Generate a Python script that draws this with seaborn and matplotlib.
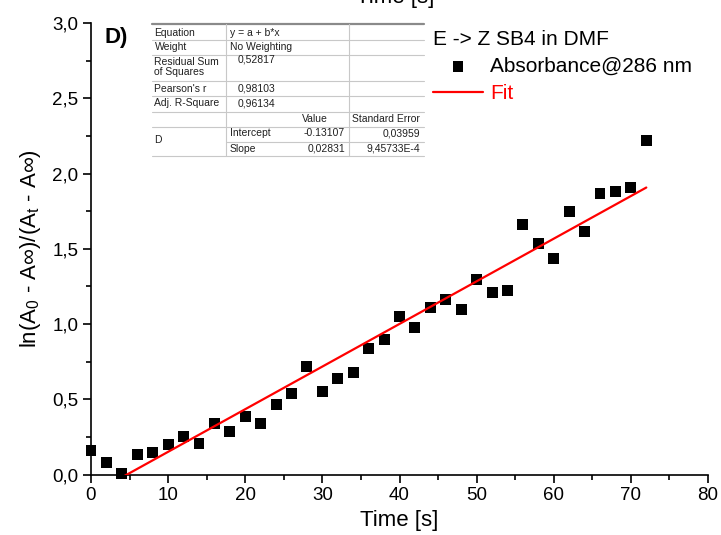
import numpy as np
import pandas as pd
import matplotlib
matplotlib.use("Agg")
import matplotlib.pyplot as plt
import matplotlib.transforms as mtransforms
from matplotlib.lines import Line2D
from matplotlib.ticker import FixedLocator, MultipleLocator
import seaborn as sns

# ---------------- data ----------------
time_s = [0, 2, 4, 6, 8, 10, 12, 14, 16, 18, 20, 22, 24, 26, 28, 30, 32, 34, 36,
          38, 40, 42, 44, 46, 48, 50, 52, 54, 56, 58, 60, 62, 64, 66, 68, 70, 72]
ln_ratio = [0.16, 0.084, 0.005, 0.135, 0.146, 0.20, 0.254, 0.21, 0.338, 0.287,
            0.385, 0.338, 0.466, 0.542, 0.719, 0.555, 0.641, 0.679, 0.84, 0.90,
            1.052, 0.975, 1.112, 1.165, 1.097, 1.294, 1.208, 1.221, 1.663, 1.533,
            1.435, 1.747, 1.614, 1.865, 1.882, 1.908, 2.218]
fit_intercept = [-0.13107]
fit_slope = [0.02831]
fit_x_range = [0, 72]

x_ticks = [0, 10, 20, 30, 40, 50, 60, 70, 80]
x_tick_labels = ["0", "10", "20", "30", "40", "50", "60", "70", "80"]
y_ticks = [0.0, 0.5, 1.0, 1.5, 2.0, 2.5, 3.0]
y_tick_labels = ["0,0", "0,5", "1,0", "1,5", "2,0", "2,5", "3,0"]

legend_title = "E -> Z SB4 in DMF"
series_label = "Absorbance@286 nm"
fit_label = "Fit"
panel_label = "D)"

table_top_labels = ["Equation", "Weight", "Residual Sum\nof Squares", "Pearson's r", "Adj. R-Square"]
table_top_values = ["y = a + b*x", "No Weighting", "0,52817", "0,98103", "0,96134"]
table_header = ["Value", "Standard Error"]
table_param_group = "D"
table_param_names = ["Intercept", "Slope"]
table_param_values = ["-0.13107", "0,02831"]
table_param_errors = ["0,03959", "9,45733E-4"]

# ---------------- figure ----------------
W, H = 721, 535
sns.set_theme(style="white")
plt.rcParams["font.family"] = ["Liberation Sans", "DejaVu Sans"]
plt.rcParams["mathtext.fontset"] = "custom"
plt.rcParams["mathtext.rm"] = "Liberation Sans"
plt.rcParams["mathtext.it"] = "Liberation Sans"
plt.rcParams["text.color"] = "black"

fig = plt.figure(figsize=(W / 100, H / 100), dpi=100)
fig.patch.set_facecolor("white")
ax = fig.add_axes([91 / W, 1 - 474.7 / H, (708 - 91) / W, (474.7 - 23) / H])
ax.set_facecolor("white")

df = pd.DataFrame({"t": time_s, "y": ln_ratio})
sns.scatterplot(data=df, x="t", y="y", marker="s", s=62, color="black",
                edgecolor="none", linewidth=0, ax=ax, label=series_label,
                zorder=3, clip_on=False)

fit_x = np.array(fit_x_range, dtype=float)
fit_df = pd.DataFrame({"t": fit_x, "y": fit_intercept[0] + fit_slope[0] * fit_x})
sns.lineplot(data=fit_df, x="t", y="y", color="red", linewidth=1.6, ax=ax,
             label=fit_label, zorder=4)

ax.set_xlim(0, 80)
ax.set_ylim(0, 3.0)
ax.xaxis.set_major_locator(FixedLocator(x_ticks))
ax.set_xticklabels(x_tick_labels)
ax.yaxis.set_major_locator(FixedLocator(y_ticks))
ax.set_yticklabels(y_tick_labels)
ax.xaxis.set_minor_locator(MultipleLocator(5))
ax.yaxis.set_minor_locator(MultipleLocator(0.25))

for side in ["top", "right"]:
    ax.spines[side].set_visible(False)
for side in ["left", "bottom"]:
    ax.spines[side].set_color("black")
    ax.spines[side].set_linewidth(1.2)

ax.tick_params(axis="both", which="major", direction="out", length=6, width=1.2,
               color="black", labelsize=13.5, labelcolor="black", pad=3,
               left=True, bottom=True)
ax.tick_params(axis="both", which="minor", direction="out", length=3.5, width=1.2,
               color="black", left=True, bottom=True)

ax.set_xlabel("Time [s]", fontsize=16, color="black", labelpad=4)
ax.set_ylabel(r"ln(A$_0$ - A∞)/(A$_\mathrm{t}$ - A∞)", fontsize=16, color="black",
              labelpad=7)

# legend
leg = ax.legend(loc="upper left", bbox_to_anchor=(433 / W, 1 - 30 / H),
                bbox_transform=fig.transFigure, frameon=False, fontsize=15,
                title=legend_title, title_fontsize=15, handlelength=2.4,
                handletextpad=0.35, labelspacing=0.38, borderpad=0,
                borderaxespad=0, markerscale=1.0, alignment="left",
                labelcolor=["black", "red"])
leg.get_title().set_color("black")

# panel label
px = mtransforms.Affine2D().scale(1 / W, -1 / H).translate(0, 1) + fig.transFigure
fig.text(105, 38, panel_label, transform=px, fontsize=16, fontweight="bold",
         va="center", ha="left", color="black")

# cropped label from panel above
fig.text(395, 8, "Time [s]", transform=px, fontsize=16, ha="center",
         va="bottom", color="black")

# ---------------- fit table ----------------
grid_c = "#c8c8c8"
txt_c = "#202020"
fs = 7.5
L, C1, C2, R = 151.5, 226, 349, 424

def hline(y, x0=L, x1=R, lw=0.8, c=grid_c):
    fig.add_artist(Line2D([x0, x1], [y, y], transform=px, color=c, lw=lw))

def vline(x, y0, y1, lw=0.8, c=grid_c):
    fig.add_artist(Line2D([x, x], [y0, y1], transform=px, color=c, lw=lw))

hline(24.3, lw=1.6, c="#8a8a8a")
for y in [40, 55, 81, 96, 111.7]:
    hline(y)
hline(126.7)
hline(141.7, x0=C1)
hline(156.3)
vline(C1, 24.3, 156.3)
vline(C2, 24.3, 156.3)

row_y = [32.5, 46.5, 67, 88.5, 103]
for lab, yy in zip(table_top_labels, row_y):
    fig.text(154.5, yy, lab, transform=px, fontsize=fs, va="center", ha="left",
             color=txt_c, linespacing=1.0)
fig.text(230, row_y[0], table_top_values[0], transform=px, fontsize=fs,
         va="center", ha="left", color=txt_c)
fig.text(230, row_y[1], table_top_values[1], transform=px, fontsize=fs,
         va="center", ha="left", color=txt_c)
fig.text(275, 59, table_top_values[2], transform=px, fontsize=fs, va="center",
         ha="right", color=txt_c)
fig.text(275, row_y[3], table_top_values[3], transform=px, fontsize=fs,
         va="center", ha="right", color=txt_c)
fig.text(275, row_y[4], table_top_values[4], transform=px, fontsize=fs,
         va="center", ha="right", color=txt_c)

fig.text(315, 118.5, table_header[0], transform=px, fontsize=fs, va="center",
         ha="center", color=txt_c)
fig.text(386, 118.5, table_header[1], transform=px, fontsize=fs, va="center",
         ha="center", color=txt_c)
fig.text(154.5, 140, table_param_group, transform=px, fontsize=fs, va="center",
         ha="left", color=txt_c)
for yy, nm, v, e in zip([133.5, 148.5], table_param_names, table_param_values,
                        table_param_errors):
    fig.text(230, yy, nm, transform=px, fontsize=fs, va="center", ha="left", color=txt_c)
    fig.text(345, yy, v, transform=px, fontsize=fs, va="center", ha="right", color=txt_c)
    fig.text(420, yy, e, transform=px, fontsize=fs, va="center", ha="right", color=txt_c)

fig.savefig("out.png", dpi=100, facecolor="white")
